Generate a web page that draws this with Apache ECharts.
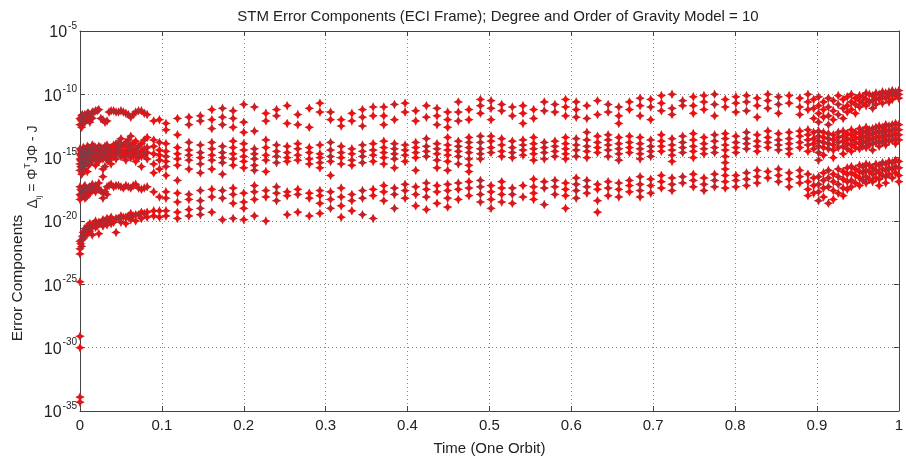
<!DOCTYPE html>
<html>
<head>
<meta charset="utf-8">
<title>STM Error Components</title>
<script src="https://cdn.jsdelivr.net/npm/echarts@6/dist/echarts.min.js"></script>
<style>
  html, body { margin: 0; padding: 0; background: #fff; }
  #chart { width: 906px; height: 466px; }
</style>
</head>
<body>
<div id="chart"></div>
<script>
// time columns (fraction of one orbit) and, per column, log10 of the error components
const timesEarly = [0.000, 0.002, 0.004, 0.006, 0.009, 0.012, 0.015, 0.019, 0.023, 0.028, 0.033,
  0.038, 0.044, 0.050, 0.056, 0.062, 0.068, 0.075, 0.082, 0.090, 0.097];
const expEarly = [
  [-11.9, -12.4, -14.3, -14.7, -15.1, -15.5, -16.0, -17.3, -17.9, -18.3, -21.6, -22.2, -22.6, -24.8, -29.1, -30.0, -33.9, -34.3],
  [-11.7, -12.1, -12.6, -14.5, -14.9, -15.3, -15.8, -16.3, -17.6, -18.1, -21.5, -22.0],
  [-11.8, -12.3, -14.2, -14.7, -15.0, -15.4, -15.7, -17.4, -17.8, -20.9, -21.4],
  [-11.6, -12.2, -14.4, -14.8, -15.2, -15.6, -17.2, -17.7, -18.2, -20.6, -21.2],
  [-11.5, -12.0, -14.1, -14.6, -14.9, -15.3, -16.1, -17.5, -18.0, -20.4, -21.0],
  [-11.6, -12.2, -14.3, -14.7, -15.1, -15.5, -17.3, -17.8, -20.2, -20.8],
  [-11.4, -11.9, -14.0, -14.5, -14.8, -15.2, -17.1, -17.6, -20.3, -21.1],
  [-11.3, -14.2, -14.6, -15.0, -15.6, -17.2, -17.7, -20.0, -20.5],
  [-11.2, -14.1, -14.5, -14.9, -15.3, -17.0, -17.5, -20.1, -21.0],
  [-12.0, -14.3, -14.7, -15.1, -15.9, -16.5, -17.8, -18.2, -19.9, -20.4],
  [-12.1, -14.0, -14.4, -14.8, -15.2, -17.3, -17.9, -19.8, -20.3],
  [-11.3, -14.2, -14.6, -15.0, -15.5, -17.1, -19.7, -20.2],
  [-11.4, -13.9, -14.3, -14.7, -15.1, -17.2, -19.8, -20.9],
  [-11.3, -13.5, -14.1, -14.5, -14.9, -17.3, -19.6, -20.1],
  [-11.5, -13.8, -14.4, -14.8, -15.2, -17.2, -19.7, -20.2],
  [-11.8, -13.3, -14.0, -14.5, -15.0, -17.4, -19.4, -19.9],
  [-11.4, -13.7, -14.3, -14.7, -15.3, -17.1, -19.5, -20.0],
  [-11.3, -13.9, -14.5, -14.9, -15.7, -17.5, -19.3, -19.8],
  [-11.6, -13.4, -14.2, -14.6, -15.1, -17.3, -19.3, -19.7],
  [-12.1, -13.6, -14.1, -14.7, -15.5, -16.2, -17.7, -19.2, -19.6],
  [-12.0, -13.8, -14.4, -14.8, -15.2, -15.9, -18.1, -19.2, -19.7]
];

// in-between steps of the first tenth of the orbit (the integrator steps are short there)
const timesEarlyFine = [0.001, 0.003, 0.005, 0.0075, 0.0105, 0.0135, 0.017, 0.021, 0.0255, 0.0305,
  0.0355, 0.041, 0.047, 0.053, 0.059, 0.065, 0.0715, 0.0785];
const expEarlyFine = [
  [-12.0, -14.4, -14.8, -15.2, -15.7, -17.5, -18.0, -21.8],
  [-11.6, -14.6, -15.0, -15.5, -16.2, -17.7, -21.2],
  [-12.1, -14.3, -14.7, -15.3, -15.9, -17.3, -20.8],
  [-11.7, -14.5, -14.9, -15.4, -17.6, -18.1, -20.7],
  [-11.5, -14.2, -14.6, -15.0, -15.6, -17.4, -20.5],
  [-11.8, -14.4, -14.8, -15.3, -17.5, -20.6],
  [-11.4, -14.1, -14.6, -15.1, -17.3, -20.2],
  [-11.3, -14.3, -14.7, -15.2, -17.4, -20.4],
  [-11.9, -14.2, -14.6, -15.0, -17.6, -20.2],
  [-12.2, -14.1, -14.5, -14.9, -15.7, -17.7, -20.0],
  [-11.4, -14.3, -14.7, -15.2, -17.2, -19.9],
  [-11.3, -14.0, -14.4, -14.9, -17.3, -20.1],
  [-11.4, -13.8, -14.2, -14.6, -17.2, -19.8],
  [-11.4, -14.0, -14.5, -14.9, -17.4, -19.7],
  [-11.6, -13.6, -14.2, -14.7, -17.3, -19.6],
  [-11.6, -13.9, -14.4, -14.9, -17.2, -19.6],
  [-11.3, -14.1, -14.6, -15.0, -17.4, -19.5],
  [-11.5, -13.6, -14.3, -14.8, -17.4, -19.4]
];

const timesMid = [0.105, 0.119, 0.133, 0.147, 0.161, 0.174, 0.187, 0.200, 0.213, 0.227, 0.240,
  0.253, 0.266, 0.280, 0.293, 0.306, 0.319, 0.332, 0.345, 0.358, 0.371, 0.384, 0.397, 0.410,
  0.423, 0.436, 0.449, 0.462, 0.475, 0.489, 0.502, 0.515, 0.528, 0.541, 0.554, 0.567, 0.580, 0.593];
const expMid = [
  [-12.3, -12.8, -13.9, -14.5, -14.9, -15.3, -15.7, -16.4, -17.7, -18.2, -19.2, -19.6],
  [-11.9, -13.2, -14.2, -14.7, -15.1, -15.6, -16.8, -17.8, -18.5, -19.3, -19.8],
  [-11.8, -12.4, -13.8, -14.4, -14.8, -15.2, -15.9, -17.9, -18.3, -19.1, -19.6],
  [-11.7, -12.1, -14.0, -14.6, -15.0, -15.5, -16.2, -17.6, -18.4, -19.0, -19.5],
  [-11.2, -12.0, -12.7, -13.8, -14.3, -14.8, -15.2, -15.9, -17.5, -18.1, -19.3],
  [-11.1, -11.8, -12.4, -14.1, -14.6, -15.0, -15.4, -16.3, -17.6, -18.2, -19.9],
  [-11.3, -11.9, -12.6, -13.7, -14.2, -14.7, -15.1, -15.6, -17.4, -17.9, -18.6, -19.8],
  [-10.8, -12.2, -13.0, -13.9, -14.4, -14.9, -15.3, -15.8, -17.8, -18.5, -19.0, -19.9],
  [-11.0, -12.9, -14.3, -14.7, -15.1, -15.6, -16.0, -17.2, -17.7, -18.3, -19.6],
  [-11.5, -12.1, -13.6, -14.2, -14.8, -15.2, -16.1, -17.6, -18.1, -20.0],
  [-11.2, -11.7, -14.0, -14.5, -14.9, -15.4, -17.3, -17.8, -18.4],
  [-10.9, -12.3, -14.1, -14.6, -15.0, -15.3, -17.7, -18.0, -19.5],
  [-11.6, -12.4, -13.9, -14.3, -14.8, -15.2, -17.5, -17.9, -19.3],
  [-11.1, -12.6, -14.2, -14.6, -15.1, -15.5, -17.8, -18.2, -19.6],
  [-10.7, -11.4, -14.0, -14.7, -15.0, -15.4, -15.8, -17.6, -18.0, -18.6, -19.4],
  [-11.4, -12.0, -13.8, -14.4, -14.9, -15.3, -16.4, -17.7, -18.3, -19.0],
  [-12.0, -12.5, -14.1, -14.6, -15.0, -15.5, -17.4, -18.1, -18.8, -19.7],
  [-11.5, -12.1, -14.3, -14.7, -15.2, -15.6, -17.9, -18.4, -19.2],
  [-11.2, -11.8, -12.5, -14.0, -14.5, -14.9, -15.4, -17.6, -18.2, -19.5],
  [-11.0, -11.7, -13.9, -14.4, -14.8, -15.3, -17.5, -18.0, -19.8],
  [-11.0, -11.7, -12.4, -13.7, -14.2, -14.6, -15.0, -15.5, -17.2, -17.7, -18.4],
  [-10.8, -12.0, -13.9, -14.3, -14.7, -15.1, -15.8, -17.4, -17.9, -19.0],
  [-10.7, -11.4, -14.0, -14.4, -14.8, -15.3, -17.1, -17.6, -18.2],
  [-11.3, -12.1, -13.8, -14.2, -14.6, -15.0, -16.0, -17.3, -17.9, -18.8],
  [-10.9, -11.8, -13.5, -14.1, -14.5, -14.9, -17.0, -17.5, -18.1, -19.1],
  [-11.1, -11.7, -12.4, -13.9, -14.3, -14.7, -15.2, -15.8, -17.2, -17.7, -18.6],
  [-11.4, -12.0, -12.6, -13.4, -14.0, -14.4, -14.8, -15.3, -16.0, -17.1, -17.6, -18.2, -18.9],
  [-10.6, -11.4, -12.1, -13.7, -14.1, -14.5, -14.9, -15.5, -17.0, -17.5, -18.3],
  [-11.2, -12.0, -13.4, -13.8, -14.2, -14.6, -15.1, -15.6, -16.1, -16.9, -17.4, -18.0],
  [-10.4, -10.9, -11.5, -13.3, -13.8, -14.3, -14.7, -15.1, -16.8, -17.3, -17.9, -18.5],
  [-10.5, -11.1, -12.0, -13.3, -13.7, -14.2, -14.6, -17.2, -17.7, -18.3, -19.0],
  [-10.8, -11.3, -13.5, -14.0, -14.5, -14.9, -16.9, -17.4, -17.9, -18.5],
  [-11.0, -11.7, -13.7, -14.2, -14.6, -15.0, -17.4, -17.9, -18.6],
  [-10.9, -11.5, -12.3, -13.6, -14.0, -14.4, -14.8, -17.2, -18.1],
  [-11.2, -11.9, -13.4, -13.9, -14.3, -14.7, -15.2, -16.7, -17.3, -17.8, -18.3],
  [-10.6, -11.3, -13.8, -14.2, -14.6, -15.1, -16.9, -17.4, -18.7],
  [-10.8, -11.4, -13.7, -14.1, -14.5, -14.9, -16.8, -17.3, -17.9],
  [-10.4, -11.0, -11.7, -13.4, -13.9, -14.3, -14.7, -15.1, -17.0, -17.5, -18.0, -19.0]
];

const timesLate = [0.606, 0.619, 0.632, 0.645, 0.658, 0.671, 0.684, 0.697, 0.710, 0.723, 0.736,
  0.749, 0.762, 0.775, 0.788, 0.801, 0.814, 0.827, 0.840, 0.853, 0.866, 0.879, 0.889, 0.896];
const expLate = [
  [-10.6, -11.2, -11.8, -13.5, -14.0, -14.4, -14.9, -16.6, -17.1, -17.6, -18.2],
  [-10.9, -11.9, -13.0, -13.6, -14.1, -14.5, -15.0, -16.8, -17.3, -17.8],
  [-10.5, -11.6, -13.3, -13.8, -14.2, -14.6, -17.1, -17.5, -18.4, -19.3],
  [-10.8, -11.4, -13.2, -13.6, -14.0, -14.4, -14.9, -16.9, -17.4, -18.0],
  [-11.0, -11.7, -12.3, -13.4, -13.9, -14.3, -14.7, -15.2, -17.0, -17.5, -18.1],
  [-10.6, -11.2, -13.3, -13.8, -14.2, -14.6, -16.8, -17.2, -17.7],
  [-10.3, -10.9, -11.7, -13.4, -13.9, -14.3, -14.7, -15.1, -16.5, -17.1, -17.6, -18.1],
  [-10.4, -11.0, -12.0, -13.6, -14.1, -14.5, -14.9, -16.7, -17.2, -17.8],
  [-10.1, -10.7, -11.3, -13.2, -13.7, -14.1, -14.5, -16.4, -16.9, -17.4],
  [-10.0, -11.1, -11.6, -13.5, -14.0, -14.4, -14.8, -15.3, -16.6, -17.1, -17.6],
  [-10.5, -10.9, -13.3, -13.8, -14.2, -14.6, -16.5, -17.0],
  [-10.2, -10.9, -11.5, -13.1, -13.6, -14.1, -14.5, -15.0, -16.3, -16.8, -17.3],
  [-10.1, -10.6, -11.2, -13.4, -13.9, -14.3, -14.7, -16.6, -17.1, -17.6],
  [-10.0, -10.8, -11.7, -13.2, -13.7, -14.2, -14.6, -16.3, -16.8, -17.3],
  [-10.4, -11.0, -13.1, -13.5, -14.0, -14.4, -14.9, -15.4, -15.9, -16.4, -16.9, -17.4],
  [-10.2, -10.7, -11.4, -13.3, -13.8, -14.2, -14.6, -16.4, -16.8, -17.3],
  [-10.1, -10.6, -11.3, -13.0, -13.5, -13.9, -14.3, -16.2, -16.7, -17.2],
  [-10.3, -10.9, -11.8, -13.2, -13.7, -14.1, -14.5, -16.0, -16.5, -17.0],
  [-10.0, -10.5, -11.1, -12.9, -13.4, -13.8, -14.2, -16.1, -16.6],
  [-10.2, -10.8, -11.5, -13.1, -13.6, -14.0, -14.4, -15.9, -16.4, -16.9],
  [-10.1, -10.7, -13.0, -13.5, -13.9, -14.3, -14.7, -16.2, -16.7, -17.3],
  [-10.3, -11.0, -11.6, -12.9, -13.3, -13.8, -14.2, -16.0, -16.5, -17.0],
  [-10.0, -10.6, -11.2, -12.8, -13.2, -13.6, -14.0, -14.5, -16.3, -16.9, -17.5, -18.0],
  [-10.4, -11.1, -11.9, -13.0, -13.5, -13.9, -14.3, -16.6, -17.2, -17.8]
];

const timesEnd = [0.902, 0.908, 0.914, 0.920, 0.926, 0.932, 0.937, 0.942, 0.947, 0.952, 0.956,
  0.960, 0.964, 0.968, 0.972, 0.976, 0.980, 0.984, 0.988, 0.992, 0.996, 1.000];
const expEnd = [
  [-10.2, -10.9, -11.5, -12.2, -12.9, -13.3, -13.7, -14.1, -14.6, -15.2, -16.5, -17.1, -17.7, -18.4],
  [-10.6, -11.2, -11.8, -13.0, -13.4, -13.8, -14.2, -14.8, -16.2, -16.8, -17.4, -18.1],
  [-10.3, -11.0, -11.7, -12.4, -13.1, -13.5, -13.9, -14.3, -16.0, -16.6, -17.3, -18.6],
  [-10.5, -11.3, -12.0, -13.2, -13.6, -14.0, -14.4, -15.0, -16.3, -16.9, -17.6, -18.3],
  [-10.1, -10.8, -11.6, -13.0, -13.4, -13.8, -14.2, -15.9, -16.5, -17.1, -17.8],
  [-10.4, -11.1, -11.9, -12.9, -13.3, -13.7, -14.1, -14.7, -16.1, -16.7, -17.4, -18.0],
  [-10.2, -10.9, -11.4, -13.1, -13.5, -13.9, -14.3, -15.8, -16.3, -16.9, -17.5],
  [-10.0, -10.6, -11.2, -12.8, -13.2, -13.6, -14.0, -14.5, -15.7, -16.2, -16.8, -17.3],
  [-10.3, -10.8, -11.5, -13.0, -13.4, -13.8, -14.2, -15.9, -16.4, -17.0],
  [-10.1, -10.5, -11.0, -12.7, -13.1, -13.5, -13.9, -14.3, -15.6, -16.1, -16.6, -17.2],
  [-10.2, -10.7, -12.9, -13.3, -13.7, -14.1, -15.7, -16.2, -16.8],
  [-9.9, -10.4, -10.9, -12.6, -13.0, -13.4, -13.8, -14.2, -15.5, -16.0, -16.5, -17.0],
  [-10.0, -10.6, -12.8, -13.2, -13.6, -14.0, -15.6, -16.1, -16.7],
  [-10.1, -10.5, -11.1, -12.7, -13.1, -13.5, -13.9, -14.4, -15.8, -16.3, -16.9],
  [-9.9, -10.3, -10.8, -12.6, -13.0, -13.4, -13.8, -15.5, -16.0, -16.6],
  [-10.0, -10.4, -12.5, -12.9, -13.3, -13.7, -14.1, -15.6, -16.2, -16.7, -17.2],
  [-9.8, -10.2, -10.7, -12.6, -13.0, -13.4, -13.8, -15.4, -15.9, -16.4],
  [-9.9, -10.3, -12.4, -12.8, -13.2, -13.6, -14.0, -15.5, -16.0, -16.5, -17.0],
  [-9.8, -10.1, -10.6, -12.5, -12.9, -13.3, -13.7, -15.3, -15.8, -16.3],
  [-9.7, -10.0, -10.4, -12.4, -12.8, -13.2, -13.6, -15.4, -15.9, -16.6],
  [-9.8, -10.1, -12.3, -12.7, -13.1, -13.5, -13.9, -15.2, -15.7, -16.2],
  [-9.7, -10.0, -10.3, -12.4, -12.8, -13.2, -13.6, -15.3, -15.8, -16.4, -16.9]
];

const xTicks = [0, 0.1, 0.2, 0.3, 0.4, 0.5, 0.6, 0.7, 0.8, 0.9, 1];
const yDecades = [-35, -30, -25, -20, -15, -10, -5];

// the y axis is drawn in decades (log10), so points keep their exponent
function buildPoints() {
  const pts = [];
  [
    [timesEarly, expEarly],
    [timesEarlyFine, expEarlyFine],
    [timesMid, expMid],
    [timesLate, expLate],
    [timesEnd, expEnd]
  ].forEach(seg => {
    seg[0].forEach((t, i) => {
      seg[1][i].forEach(e => {
        pts.push([t, e]);
      });
    });
  });
  return pts;
}

const points = buildPoints();
const FONT = '"Liberation Sans", Arial, sans-serif';
const myChart = echarts.init(document.getElementById('chart'));

const gridLine = { show: true, lineStyle: { type: [1, 3], color: '#8a8a8a', width: 1 } };
const axisLine = { show: true, onZero: false, lineStyle: { color: '#444', width: 1 } };
const tickIn = { show: true, inside: true, length: 5, lineStyle: { color: '#444' } };

const option = {
  animation: false,
  backgroundColor: '#fff',
  title: {
    text: 'STM Error Components (ECI Frame); Degree and Order of Gravity Model = 10',
    left: 493,
    textAlign: 'center',
    top: 4,
    textStyle: { fontFamily: FONT, fontSize: 15, fontWeight: 'normal', color: '#222' }
  },
  grid: { left: 80, right: 3, top: 31, bottom: 55 },
  xAxis: [
    {
      type: 'value',
      min: 0,
      max: 1,
      interval: 0.1,
      name: 'Time (One Orbit)',
      nameLocation: 'middle',
      nameGap: 30,
      nameTextStyle: { fontFamily: FONT, fontSize: 15, color: '#222' },
      axisLine: axisLine,
      axisTick: tickIn,
      splitLine: gridLine,
      axisLabel: {
        fontFamily: FONT,
        fontSize: 15,
        color: '#222',
        margin: 7,
        formatter: v => String(xTicks[Math.round(v * 10)])
      }
    },
    {
      type: 'value',
      position: 'top',
      min: 0,
      max: 1,
      interval: 0.1,
      axisLine: axisLine,
      axisTick: tickIn,
      axisLabel: { show: false },
      splitLine: { show: false }
    }
  ],
  yAxis: [
    {
      type: 'value',
      min: -35,
      max: -5,
      interval: 5,
      axisLine: axisLine,
      axisTick: tickIn,
      splitLine: gridLine,
      axisLabel: {
        margin: 3,
        formatter: v => {
          const e = Math.round(v);
          return yDecades.indexOf(e) >= 0 ? '{b|10}{s|' + e + '}' : '';
        },
        rich: {
          b: { fontFamily: FONT, fontSize: 16, color: '#222', lineHeight: 20, verticalAlign: 'bottom' },
          s: { fontFamily: FONT, fontSize: 10, color: '#222', lineHeight: 20, verticalAlign: 'top', padding: [0, 0, 0, 1] }
        }
      }
    },
    {
      type: 'value',
      position: 'right',
      min: -35,
      max: -5,
      interval: 5,
      axisLine: axisLine,
      axisTick: tickIn,
      axisLabel: { show: false },
      splitLine: { show: false }
    }
  ],
  graphic: [
    {
      type: 'text',
      x: 18,
      y: 278,
      rotation: Math.PI / 2,
      style: {
        text: 'Error Components',
        fontFamily: FONT,
        fontSize: 15.5,
        fill: '#222',
        align: 'center',
        verticalAlign: 'middle'
      }
    },
    {
      type: 'text',
      x: 33,
      y: 167,
      rotation: Math.PI / 2,
      style: {
        text: '{n|Δ}{sub|ij}{n| = Φ}{sup|T}{n|JΦ - J}',
        align: 'center',
        verticalAlign: 'middle',
        rich: {
          n: { fontFamily: FONT, fontSize: 14, fill: '#333', lineHeight: 20, verticalAlign: 'middle' },
          sub: { fontFamily: FONT, fontSize: 8, fill: '#333', lineHeight: 20, verticalAlign: 'bottom' },
          sup: { fontFamily: FONT, fontSize: 9, fill: '#333', lineHeight: 20, verticalAlign: 'top' }
        }
      }
    }
  ],
  series: [
    {
      type: 'scatter',
      xAxisIndex: 0,
      yAxisIndex: 0,
      symbol: 'path://M5,0 L6.8,3.2 L10,5 L6.8,6.8 L5,10 L3.2,6.8 L0,5 L3.2,3.2 Z',
      symbolSize: 9,
      itemStyle: { color: '#ff0a0a', opacity: 1 },
      data: points,
      silent: true
    },
    {
      type: 'scatter',
      xAxisIndex: 0,
      yAxisIndex: 0,
      symbol: 'path://M4.5,0h1v10h-1zM0,4.5h10v1h-10z',
      symbolSize: 9,
      itemStyle: { color: 'rgba(95,75,90,0.55)' },
      data: points,
      silent: true
    }
  ]
};

myChart.setOption(option);
</script>
</body>
</html>
